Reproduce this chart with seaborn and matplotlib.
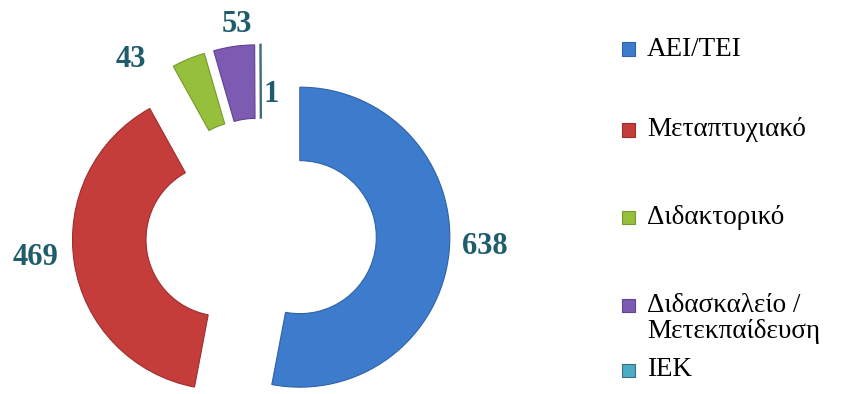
import matplotlib
matplotlib.use("Agg")
import matplotlib.pyplot as plt
from matplotlib.patches import Rectangle
import seaborn as sns

# Education level counts
categories = ["ΑΕΙ/ΤΕΙ", "Μεταπτυχιακό", "Διδακτορικό", "Διδασκαλείο /\nΜετεκπαίδευση", "ΙΕΚ"]
counts = [638, 469, 43, 53, 1]
colors = ["#3d7ccc", "#c43d3b", "#96bf3c", "#7e5bb3", "#4bacc6"]
edge_colors = ["#2f62a6", "#9c2f2d", "#769a2c", "#5f4290", "#3f6f7c"]

sns.set_theme(style="white")
plt.rcParams["font.family"] = ["Liberation Serif", "DejaVu Serif"]

W, H, DPI = 851, 394, 100
fig = plt.figure(figsize=(W / DPI, H / DPI), dpi=DPI)
fig.patch.set_facecolor("white")

# donut centre in pixels and pixels per radius unit
cx, cy, scale = 261, 233.5, 150
ax = fig.add_axes([0, 0, 1, 1])

wedges, _ = ax.pie(
    counts,
    colors=colors,
    startangle=90,
    counterclock=False,
    radius=1.0,
    explode=[0.26] * len(counts),
    wedgeprops=dict(width=0.49, linewidth=0.8),
    frame=True,
)
for w, ec in zip(wedges, edge_colors):
    w.set_edgecolor(ec)
wedges[-1].set_linewidth(1.2)
ax.set_xlim(-cx / scale, (W - cx) / scale)
ax.set_ylim((cy - H) / scale, cy / scale)
ax.set_aspect("auto")
ax.axis("off")

# value labels
label_pos = [(1.49, -0.09), (-1.50, -0.157), (-0.867, 1.157), (-0.16, 1.39), (0.067, 0.93)]
for val, (lx, ly) in zip(counts, label_pos):
    ax.text(lx, ly, f"{val}", ha="center", va="center", fontsize=22,
            fontweight="bold", color="#1f5d6c")

# legend
legend_y = [49, 130, 217, 318.5, 370]
for name, col, ec, py in zip(categories, colors, edge_colors, legend_y):
    first_line_y = py - 13.5 if "\n" in name else py
    fig.patches.append(Rectangle((622 / W, 1 - (first_line_y + 6.5) / H), 13 / W, 13 / H,
                                 transform=fig.transFigure, facecolor=col,
                                 edgecolor=ec, linewidth=0.8))
    fig.text(647 / W, 1 - py / H, name, ha="left", va="center", fontsize=19.5,
             color="black", linespacing=1.0)

fig.savefig("out.png", dpi=DPI, facecolor="white")
